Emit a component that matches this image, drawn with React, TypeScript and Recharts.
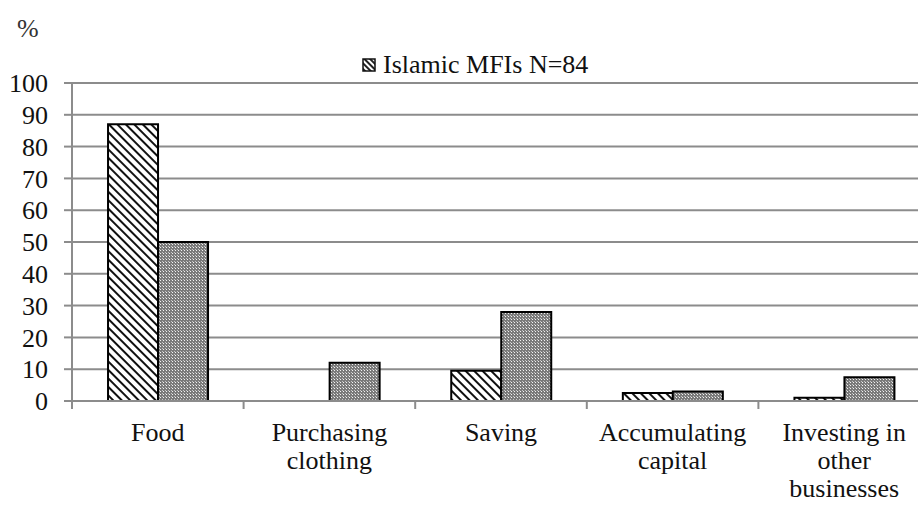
import React from 'react';
import { BarChart, Bar, XAxis, YAxis, CartesianGrid } from 'recharts';

const categories = ['Food', 'Purchasing\nclothing', 'Saving', 'Accumulating\ncapital', 'Investing in\nother\nbusinesses'];
const islamicValues = [87, 0, 9.5, 2.5, 1];
const conventionalValues = [50, 12, 28, 3, 7.5];
const yTicks = [0, 10, 20, 30, 40, 50, 60, 70, 80, 90, 100];

const chartData = categories.map((name, i) => ({
  name,
  islamic: islamicValues[i],
  conventional: conventionalValues[i],
}));

const FONT = "'Liberation Serif', 'DejaVu Serif', 'Noto Serif', Georgia, serif";
const GRID = '#8c8c8c';
const CHART_W = 930;
const CHART_H = 506;
const Y_W = 72;
const TOP = 83;
const X_H = 105;
const BAND = (CHART_W - Y_W) / categories.length;

const CategoryTick = (props: any) => {
  const { x, y, payload } = props;
  const lines: string[] = String(payload.value).split('\n');
  const axisY = y - 8;
  return (
    <g>
      <line x1={x - BAND / 2} y1={axisY} x2={x - BAND / 2} y2={axisY + 8} stroke={GRID} strokeWidth={2} />
      <text x={x} y={axisY + 40} textAnchor="middle" fontFamily={FONT} fontSize={26} fill="#111">
        {lines.map((l, i) => (
          <tspan key={i} x={x} dy={i === 0 ? 0 : 28}>{l}</tspan>
        ))}
      </text>
    </g>
  );
};

const Patterns = () => (
  <defs>
    <pattern id="hatch" width="6" height="6" patternUnits="userSpaceOnUse" patternTransform="rotate(-45)">
      <rect width="6" height="6" fill="#fff" />
      <rect width="2" height="6" fill="#111" />
    </pattern>
    <pattern id="dots" width="3" height="3" patternUnits="userSpaceOnUse">
      <rect width="3" height="3" fill="#7a7a7a" />
      <rect x="1" y="1" width="1" height="1" fill="#f2f2f2" />
      <rect x="0" y="0" width="1" height="1" fill="#c4c4c4" />
    </pattern>
  </defs>
);

export default function App() {
  return (
    <div style={{ position: 'absolute', left: 0, top: 0, width: 918, height: 506, overflow: 'hidden', background: '#fff' }}>
      <div style={{ position: 'absolute', left: 17, top: 14, fontFamily: FONT, fontSize: 26, color: '#333' }}>%</div>
      <div style={{ position: 'absolute', left: 362, top: 50, display: 'flex', alignItems: 'center', fontFamily: FONT, fontSize: 26, color: '#111' }}>
        <svg width={14} height={14} style={{ marginRight: 7 }}>
          <defs>
            <pattern id="hatchLegend" width="4" height="4" patternUnits="userSpaceOnUse" patternTransform="rotate(-45)">
              <rect width="4" height="4" fill="#fff" />
              <rect width="2" height="4" fill="#222" />
            </pattern>
          </defs>
          <rect x={1} y={1} width={12} height={12} fill="url(#hatchLegend)" stroke="#111" strokeWidth={1.5} />
        </svg>
        <span>Islamic MFIs N=84</span>
      </div>
      <BarChart
        width={CHART_W}
        height={CHART_H}
        data={chartData}
        margin={{ top: TOP, right: 0, bottom: 0, left: 0 }}
        barCategoryGap="21%"
        barGap={0}
      >
        <Patterns />
        <CartesianGrid vertical={false} stroke={GRID} strokeWidth={2} />
        <XAxis
          dataKey="name"
          height={X_H}
          interval={0}
          axisLine={{ stroke: GRID, strokeWidth: 2 }}
          tickLine={false}
          tickSize={8}
          tickMargin={0}
          tick={<CategoryTick />}
        />
        <YAxis
          width={Y_W}
          domain={[0, 100]}
          ticks={yTicks}
          interval={0}
          axisLine={{ stroke: GRID, strokeWidth: 2 }}
          tickLine={{ stroke: GRID, strokeWidth: 2 }}
          tickSize={8}
          tickMargin={16}
          tick={{ fontFamily: FONT, fontSize: 26, fill: '#111' }}
        />
        <Bar dataKey="islamic" name="Islamic MFIs N=84" fill="url(#hatch)" stroke="#000" strokeWidth={2} isAnimationActive={false} />
        <Bar dataKey="conventional" name="Conventional MFIs" fill="url(#dots)" stroke="#000" strokeWidth={2} isAnimationActive={false} />
      </BarChart>
    </div>
  );
}
